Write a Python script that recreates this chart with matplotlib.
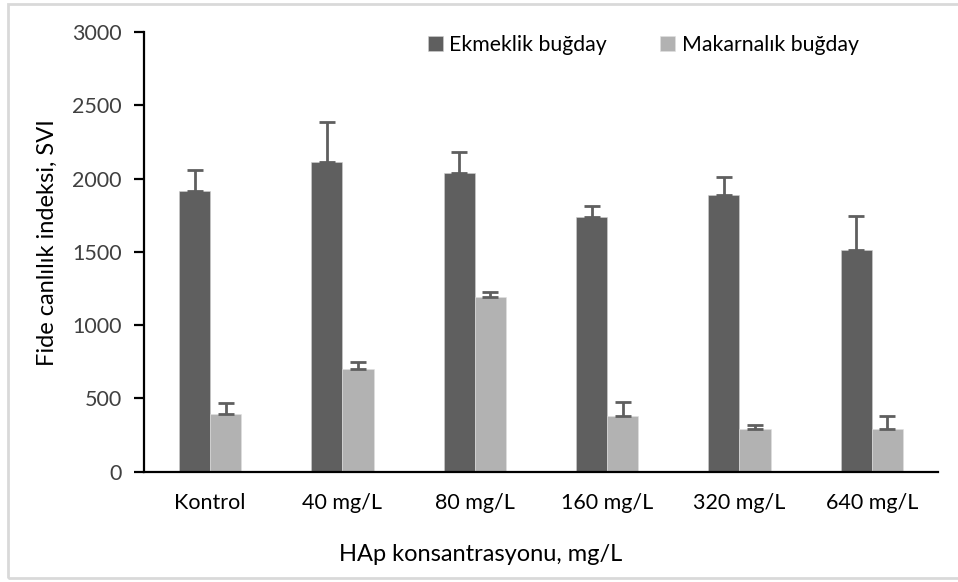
import numpy as np
import matplotlib.pyplot as plt
from matplotlib.patches import Rectangle

plt.rcParams['font.family'] = ['Lato', 'DejaVu Sans']

# seedling vigour index per HAp dose, mean and upper error
doses = ['Kontrol', '40 mg/L', '80 mg/L', '160 mg/L', '320 mg/L', '640 mg/L']
ekmeklik = [1915, 2115, 2040, 1740, 1888, 1512]
ekmeklik_err = [145, 272, 140, 72, 123, 230]
makarnalik = [395, 700, 1195, 377, 289, 289]
makarnalik_err = [75, 50, 30, 100, 31, 88]

dark = '#5f5f5f'
light = '#b2b2b2'
text_col = '#404040'

fig = plt.figure(figsize=(9.58, 5.82), dpi=100)
ax = fig.add_axes([0.1503, 0.1895, 0.8287, 0.7555])

x = np.arange(len(doses))
w = 0.235
ax.bar(x - w / 2, ekmeklik, w, color=dark, edgecolor='#d0d0d0', linewidth=0.4,
       label='Ekmeklik buğday', zorder=2)
ax.bar(x + w / 2, makarnalik, w, color=light, edgecolor='#e0e0e0', linewidth=0.4,
       label='Makarnalık buğday', zorder=2)

# error bars drawn upward only
ax.errorbar(x - w / 2, ekmeklik, yerr=[np.zeros(len(x)), ekmeklik_err], fmt='none',
            ecolor=dark, elinewidth=2, capsize=5.5, capthick=2, zorder=3)
ax.errorbar(x + w / 2, makarnalik, yerr=[np.zeros(len(x)), makarnalik_err], fmt='none',
            ecolor=dark, elinewidth=2, capsize=5.5, capthick=2, zorder=3)

ax.set_xlim(-0.5, len(doses) - 0.5)
ax.set_ylim(0, 3000)
ax.set_yticks(np.arange(0, 3001, 500))
ax.set_xticks(x)
ax.set_xticklabels(doses)

for s in ['top', 'right']:
    ax.spines[s].set_visible(False)
for s in ['left', 'bottom']:
    ax.spines[s].set_linewidth(1.6)
    ax.spines[s].set_color('black')

ax.tick_params(axis='y', direction='out', length=7, width=1.6, pad=9,
               labelsize=15.5, labelcolor=text_col)
ax.tick_params(axis='x', length=0, pad=15, labelsize=15.5, labelcolor='black')

ax.set_ylabel('Fide canlılık indeksi, SVI', fontsize=17, color='black')
ax.set_xlabel('HAp konsantrasyonu, mg/L', fontsize=17, color='black')
ax.xaxis.set_label_coords(0.424, -0.164)
ax.yaxis.set_label_coords(-0.108, 0.52)

leg = ax.legend(loc='upper center', bbox_to_anchor=(0.629, 1.036), ncol=2, frameon=False,
                fontsize=15.3, handlelength=0.7, handleheight=0.7, handletextpad=0.3,
                columnspacing=2.5)
for t in leg.get_texts():
    t.set_color('black')

# light grey frame around the chart area
fig.patches.append(Rectangle((8 / 958, 4 / 582), 1.0, 574 / 582, transform=fig.transFigure,
                             fill=False, edgecolor='#d9d9d9', linewidth=2, zorder=0))

fig.savefig('out.png', dpi=100, facecolor='white')
